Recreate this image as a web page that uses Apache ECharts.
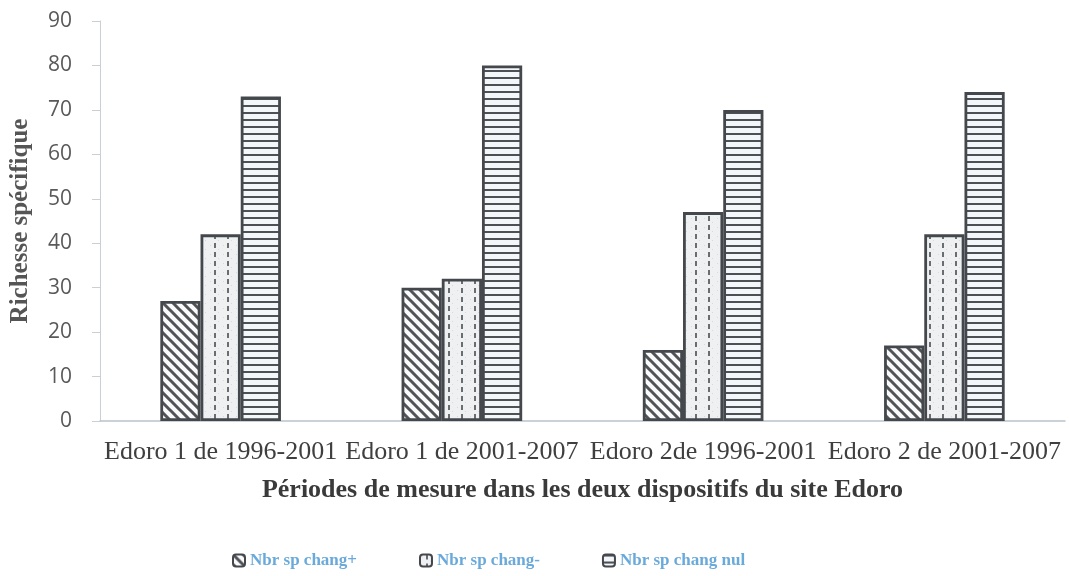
<!DOCTYPE html>
<html>
<head>
<meta charset="utf-8">
<script src="https://cdn.jsdelivr.net/npm/echarts@6/dist/echarts.min.js"></script>
<style>
  html, body { margin: 0; padding: 0; background: #fff; }
  #chart { width: 1069px; height: 576px; }
</style>
</head>
<body>
<div id="chart"></div>
<script>
// data
var periods = ['Edoro 1 de 1996-2001', 'Edoro 1 de 2001-2007', 'Edoro 2de 1996-2001', 'Edoro 2 de 2001-2007'];
var seriesNames = ['Nbr sp chang+', 'Nbr sp chang-', 'Nbr sp chang nul'];
var changPlus = [27, 30, 16, 17];
var changMoins = [42, 32, 47, 42];
var changNul = [73, 80, 70, 74];

// pattern tiles
function tile(w, h, draw) {
  var c = document.createElement('canvas');
  c.width = w; c.height = h;
  var ctx = c.getContext('2d');
  draw(ctx, w, h);
  return c;
}
var hatchTile = tile(10, 10, function (ctx, w, h) {
  ctx.fillStyle = '#fafafa';
  ctx.fillRect(0, 0, w, h);
  ctx.strokeStyle = '#505357';
  ctx.lineWidth = 3;
  ctx.beginPath();
  ctx.moveTo(-2, -2); ctx.lineTo(w + 2, h + 2);
  ctx.moveTo(-2, h - 2); ctx.lineTo(2, h + 2);
  ctx.moveTo(w - 2, -2); ctx.lineTo(w + 2, 2);
  ctx.stroke();
});
var dotTile = tile(13, 9, function (ctx, w, h) {
  ctx.fillStyle = '#eef0f2';
  ctx.fillRect(0, 0, w, h);
  ctx.fillStyle = '#d8dbde';
  ctx.fillRect(2, 2, 1, 1); ctx.fillRect(10, 6, 1, 1);
  ctx.fillStyle = '#6a6d70';
  ctx.fillRect(6, 0, 2, 5);
});
var lineTile = tile(4, 7, function (ctx, w, h) {
  ctx.fillStyle = '#f3f7fa';
  ctx.fillRect(0, 0, w, h);
  ctx.fillStyle = '#4d5155';
  ctx.fillRect(0, 0, w, 2);
});
function pat(c) { return { image: c, repeat: 'repeat' }; }

var chart = echarts.init(document.getElementById('chart'), null, { renderer: 'canvas' });

function bar(name, data, c) {
  return {
    name: name,
    type: 'bar',
    data: data,
    barGap: '0%',
    barCategoryGap: '50%',
    itemStyle: { color: pat(c), borderColor: '#44484c', borderWidth: 2.8 },
    emphasis: { disabled: true }
  };
}

var option = {
  backgroundColor: '#fff',
  animation: false,
  grid: { left: 100, right: 4, top: 21, bottom: 155 },
  legend: {
    top: 547,
    left: 227,
    itemWidth: 12,
    itemHeight: 12,
    itemGap: 62,
    textStyle: { color: '#6aaadb', fontFamily: 'Liberation Serif', fontWeight: 'bold', fontSize: 17 }
  },
  xAxis: {
    type: 'category',
    data: periods,
    axisLine: { lineStyle: { color: '#b9c3cc', width: 1.5 } },
    axisTick: { show: false },
    axisLabel: { color: '#3f3f3f', fontFamily: 'Liberation Serif', fontSize: 26, margin: 18, interval: 0 },
    name: 'Périodes de mesure dans les deux dispositifs du site Edoro',
    nameLocation: 'middle',
    nameGap: 56,
    nameTextStyle: { color: '#3a3a3a', fontFamily: 'Liberation Serif', fontWeight: 'bold', fontSize: 26 }
  },
  yAxis: {
    type: 'value',
    min: 0, max: 90, interval: 10,
    axisLine: { show: true, lineStyle: { color: '#c9cfd5', width: 1 } },
    axisTick: { show: true, length: 8, lineStyle: { color: '#c9cfd5' } },
    splitLine: { show: false },
    axisLabel: { color: '#595959', fontFamily: 'Open Sans', fontSize: 21, margin: 28 },
    name: 'Richesse spécifique',
    nameLocation: 'middle',
    nameGap: 67,
    nameTextStyle: { color: '#555', fontFamily: 'Liberation Serif', fontWeight: 'bold', fontSize: 25 }
  },
  series: [
    bar(seriesNames[0], changPlus, hatchTile),
    bar(seriesNames[1], changMoins, dotTile),
    bar(seriesNames[2], changNul, lineTile)
  ]
};
chart.setOption(option);
</script>
</body>
</html>
